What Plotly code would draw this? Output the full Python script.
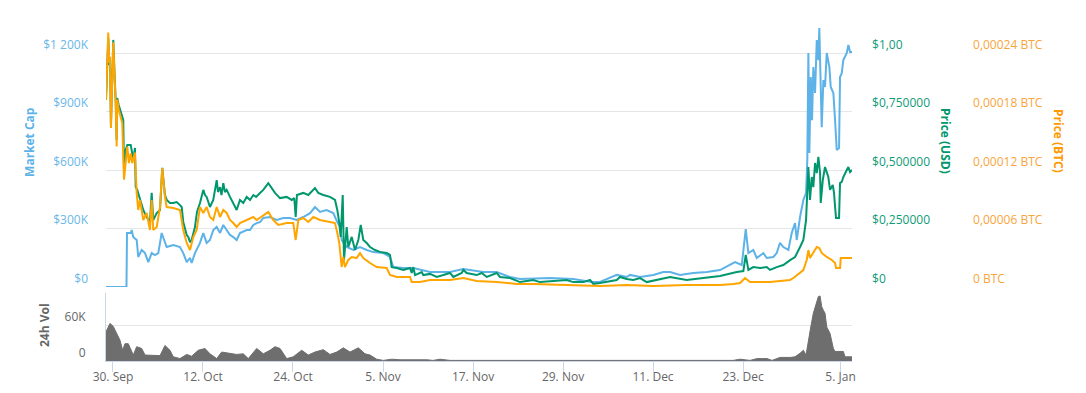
import pandas as pd
import plotly.graph_objects as go

# ---------------- data ----------------
BASE_DATE = "2017-09-30"

# Market cap (thousand USD), time in days since 30 Sep 2017
mc_days = [-0.93, 1.80, 1.87, 2.40, 2.49, 2.71, 3.16, 3.37, 3.83, 4.27,
           4.71, 5.16, 5.60, 6.04, 6.49, 6.93, 7.16, 8.04, 8.93, 9.37,
           9.83, 10.27, 10.49, 10.93, 11.60, 12.04, 12.49, 12.93, 13.37, 13.83,
           14.27, 14.71, 15.16, 15.60, 16.04, 16.49, 16.93, 17.83, 18.27, 18.71,
           19.16, 19.60, 20.04, 20.93, 21.83, 22.71, 23.60, 24.49, 25.37, 26.27,
           26.93, 27.60, 28.49, 29.37, 29.91, 30.27, 30.49, 31.16, 32.04, 32.93,
           33.83, 34.71, 36.04, 36.93, 37.37, 38.71, 39.60, 40.04, 42.27, 44.93,
           46.71, 49.37, 51.16, 52.93, 54.27, 58.27, 61.37, 63.83, 64.93, 67.16,
           68.49, 68.93, 70.27, 72.04, 73.37, 74.27, 75.60, 77.37, 79.16, 80.93,
           82.93, 83.83, 84.36, 84.71, 85.37, 85.83, 86.71, 87.16, 88.04, 88.49,
           88.93, 89.37, 90.04, 90.49, 90.93, 91.16, 91.60, 92.04, 92.40, 92.57,
           92.71, 92.84, 93.03, 93.20, 93.37, 93.60, 93.83, 94.04, 94.17, 94.36,
           94.49, 94.71, 94.93, 95.16, 95.51, 95.69, 96.04, 96.27, 96.49, 96.80,
           96.93, 97.16, 97.37, 97.83, 98.04, 98.27, 98.53]
mc_k = [0, 0, 277, 277, 292, 256, 241, 154, 190, 174,
        128, 174, 164, 174, 277, 226, 205, 215, 205, 174,
        128, 149, 123, 174, 226, 277, 226, 241, 292, 308,
        277, 318, 292, 267, 256, 241, 277, 292, 292, 318,
        328, 333, 354, 359, 344, 354, 354, 344, 359, 379,
        410, 385, 395, 379, 333, 308, 241, 205, 190, 205,
        190, 179, 174, 154, 103, 97, 97, 97, 77, 77,
        92, 77, 77, 51, 41, 46, 41, 26, 26, 62,
        51, 62, 51, 62, 77, 77, 62, 72, 77, 87,
        128, 113, 297, 174, 190, 149, 174, 149, 154, 174,
        226, 205, 190, 277, 328, 241, 359, 446, 482, 651,
        1200, 687, 1077, 856, 1128, 995, 1267, 1164, 1328, 1097,
        820, 1061, 1026, 1200, 1128, 1026, 995, 856, 703, 713,
        1077, 1097, 1164, 1200, 1241, 1205, 1205]

# Price in USD
usd_days = [-0.93, -0.63, -0.49, -0.40, -0.27, -0.13, 0.04, 0.23, 0.36, 0.49,
            0.57, 0.76, 1.03, 1.24, 1.37, 1.47, 1.69, 1.91, 2.13, 2.36,
            2.49, 2.71, 2.93, 3.03, 3.24, 3.60, 3.83, 4.04, 4.49, 4.93,
            5.16, 5.37, 5.83, 6.27, 6.57, 6.93, 7.16, 7.60, 8.04, 8.49,
            8.93, 9.16, 9.37, 9.60, 9.83, 10.04, 10.27, 10.49, 10.71, 10.93,
            11.20, 11.60, 12.04, 12.27, 12.49, 12.93, 13.37, 13.83, 14.00, 14.27,
            14.47, 14.71, 14.93, 15.16, 15.60, 16.04, 16.49, 16.93, 17.37, 17.83,
            18.27, 18.71, 19.07, 19.60, 20.04, 20.71, 21.16, 21.60, 22.27, 23.16,
            23.83, 24.17, 24.36, 24.53, 25.37, 26.04, 26.93, 27.37, 28.04, 28.93,
            29.60, 29.91, 30.17, 30.36, 30.63, 30.80, 31.16, 31.37, 31.83, 32.27,
            32.71, 33.03, 33.37, 33.83, 34.27, 34.93, 35.60, 36.49, 36.93, 37.16,
            37.83, 38.71, 39.60, 39.83, 40.04, 40.27, 41.16, 41.37, 42.27, 43.16,
            44.04, 44.93, 45.37, 46.49, 46.71, 47.16, 48.49, 49.16, 49.83, 51.16,
            51.60, 52.93, 54.27, 56.04, 56.93, 58.71, 60.49, 61.37, 62.71, 63.60,
            64.04, 64.93, 65.83, 67.16, 67.60, 68.49, 69.37, 70.27, 71.16, 72.93,
            74.27, 76.49, 78.71, 80.93, 83.16, 84.04, 84.36, 84.71, 85.37, 86.27,
            87.16, 87.60, 88.49, 89.37, 90.27, 90.93, 91.60, 92.04, 92.40, 92.57,
            92.71, 92.93, 93.16, 93.37, 93.60, 93.83, 94.04, 94.27, 94.36, 94.63,
            94.93, 95.37, 95.60, 95.96, 96.13, 96.27, 96.40, 96.80, 96.93, 97.16,
            97.37, 97.83, 98.04, 98.27, 98.53]
usd_price = [0.799, 1.064, 0.949, 0.970, 0.692, 0.863, 1.056, 0.893, 0.799, 0.628,
             0.808, 0.778, 0.744, 0.722, 0.714, 0.491, 0.585, 0.607, 0.607, 0.607,
             0.585, 0.543, 0.594, 0.427, 0.415, 0.372, 0.350, 0.329, 0.299, 0.278,
             0.402, 0.286, 0.316, 0.329, 0.509, 0.393, 0.372, 0.359, 0.359, 0.363,
             0.350, 0.342, 0.278, 0.244, 0.222, 0.214, 0.192, 0.201, 0.231, 0.256,
             0.321, 0.359, 0.415, 0.393, 0.385, 0.342, 0.372, 0.457, 0.406, 0.427,
             0.393, 0.444, 0.406, 0.415, 0.385, 0.359, 0.329, 0.372, 0.359, 0.385,
             0.372, 0.393, 0.385, 0.402, 0.415, 0.444, 0.423, 0.402, 0.380, 0.385,
             0.372, 0.380, 0.299, 0.393, 0.402, 0.393, 0.423, 0.402, 0.393, 0.385,
             0.372, 0.329, 0.274, 0.214, 0.393, 0.115, 0.256, 0.171, 0.214, 0.158,
             0.201, 0.265, 0.201, 0.188, 0.171, 0.158, 0.150, 0.145, 0.137, 0.085,
             0.081, 0.073, 0.081, 0.060, 0.085, 0.051, 0.064, 0.051, 0.056, 0.043,
             0.051, 0.060, 0.043, 0.060, 0.073, 0.060, 0.051, 0.060, 0.043, 0.060,
             0.043, 0.038, 0.021, 0.030, 0.021, 0.026, 0.030, 0.021, 0.021, 0.030,
             0.013, 0.017, 0.021, 0.030, 0.043, 0.034, 0.030, 0.038, 0.021, 0.034,
             0.043, 0.030, 0.038, 0.047, 0.064, 0.068, 0.137, 0.073, 0.085, 0.081,
             0.085, 0.073, 0.085, 0.094, 0.115, 0.128, 0.171, 0.201, 0.286, 0.427,
             0.513, 0.372, 0.470, 0.427, 0.530, 0.487, 0.556, 0.487, 0.359, 0.457,
             0.513, 0.470, 0.415, 0.436, 0.402, 0.342, 0.295, 0.295, 0.444, 0.449,
             0.470, 0.500, 0.513, 0.491, 0.500]

# Price in BTC
btc_days = [-0.93, -0.63, -0.49, -0.40, -0.27, -0.13, 0.04, 0.23, 0.36, 0.49,
            0.57, 0.76, 1.03, 1.24, 1.47, 1.69, 1.91, 2.13, 2.36, 2.57,
            2.93, 3.16, 3.37, 3.60, 3.83, 4.04, 4.49, 4.93, 5.16, 5.37,
            5.83, 6.27, 6.57, 6.93, 7.16, 8.04, 8.93, 9.37, 9.83, 10.27,
            10.71, 11.16, 11.60, 12.04, 12.49, 12.93, 13.37, 13.83, 14.27, 14.71,
            15.16, 15.60, 16.04, 16.49, 16.93, 17.83, 18.71, 19.16, 20.04, 20.71,
            21.37, 22.04, 23.16, 24.04, 24.36, 24.71, 25.37, 26.04, 26.71, 27.60,
            28.93, 29.60, 29.91, 30.17, 30.49, 30.71, 30.93, 31.37, 31.83, 32.49,
            32.93, 33.37, 34.27, 35.16, 36.49, 36.93, 37.83, 39.60, 39.83, 40.93,
            42.27, 44.93, 46.71, 48.49, 51.16, 53.83, 56.04, 60.49, 63.16, 64.93,
            68.49, 72.04, 76.49, 80.93, 82.71, 83.60, 84.27, 84.93, 86.27, 87.60,
            88.93, 90.27, 90.71, 91.60, 92.04, 92.49, 92.71, 92.93, 93.37, 93.83,
            94.17, 94.49, 95.16, 95.83, 96.27, 96.40, 96.93, 97.03, 98.53]
btc_price = [0.000192, 0.000261, 0.000230, 0.000236, 0.000163, 0.000205, 0.000251, 0.000212, 0.000189, 0.000144,
             0.000192, 0.000182, 0.000174, 0.000168, 0.000110, 0.000130, 0.000144, 0.000127, 0.000137, 0.000127,
             0.000138, 0.0000964, 0.0000790, 0.0000892, 0.0000759, 0.0000687, 0.0000759, 0.0000585, 0.0000892, 0.0000585,
             0.0000615, 0.0000820, 0.000122, 0.0000923, 0.0000820, 0.0000810, 0.0000790, 0.0000585, 0.0000451, 0.0000379,
             0.0000513, 0.0000585, 0.0000820, 0.0000759, 0.0000820, 0.0000718, 0.0000687, 0.0000820, 0.0000718, 0.0000790,
             0.0000759, 0.0000687, 0.0000656, 0.0000615, 0.0000656, 0.0000687, 0.0000718, 0.0000687, 0.0000738, 0.0000769,
             0.0000687, 0.0000636, 0.0000656, 0.0000656, 0.0000482, 0.0000687, 0.0000708, 0.0000667, 0.0000718, 0.0000687,
             0.0000667, 0.0000656, 0.0000554, 0.0000451, 0.0000205, 0.0000308, 0.0000205, 0.0000277, 0.0000308, 0.0000297,
             0.0000349, 0.0000297, 0.0000246, 0.0000205, 0.0000195, 0.0000123, 0.0000103, 0.0000103, 0.0000051, 0.0000051,
             0.0000072, 0.0000072, 0.0000092, 0.0000062, 0.0000051, 0.0000031, 0.0000031, 0.0000021, 0.0000010, 0.0000010,
             0.0000021, 0.0000010, 0.0000021, 0.0000021, 0.0000031, 0.0000041, 0.0000092, 0.0000051, 0.0000051, 0.0000051,
             0.0000062, 0.0000072, 0.0000092, 0.0000144, 0.0000174, 0.0000277, 0.0000379, 0.0000297, 0.0000349, 0.0000410,
             0.0000400, 0.0000349, 0.0000308, 0.0000277, 0.0000246, 0.0000195, 0.0000195, 0.0000297, 0.0000297]

# 24h volume (thousand USD)
vol_days = [-0.93, -0.40, 0.04, 0.49, 0.93, 1.29, 1.60, 2.04, 2.49, 2.71,
            3.16, 3.83, 4.27, 4.93, 5.60, 6.27, 6.93, 7.60, 8.04, 8.93,
            9.83, 10.49, 11.37, 12.27, 12.93, 13.83, 14.49, 15.60, 16.49, 17.37,
            18.04, 19.16, 20.04, 20.93, 21.60, 22.27, 23.16, 24.04, 25.16, 26.04,
            26.93, 28.04, 28.93, 29.83, 30.71, 31.60, 32.71, 33.60, 34.27, 35.16,
            36.04, 37.16, 38.27, 41.87, 42.67, 43.60, 44.93, 47.16, 52.00, 60.93,
            62.67, 69.16, 80.53, 82.67, 83.60, 84.93, 85.87, 87.20, 87.87, 88.93,
            90.27, 90.93, 91.60, 92.04, 92.40, 92.71, 93.03, 93.37, 93.73, 94.04,
            94.27, 94.49, 94.71, 94.93, 95.16, 95.60, 96.04, 96.27, 97.37, 97.60,
            98.44, 98.53]
vol_k = [49, 63, 58, 46, 35, 18, 29, 29, 15, 10,
         24, 21, 10, 10, 10, 9, 26, 18, 7, 4,
         11, 8, 18, 21, 12, 4, 15, 13, 11, 12,
         4, 21, 12, 18, 24, 21, 4, 7, 18, 10,
         15, 19, 11, 15, 22, 15, 22, 12, 10, 3,
         1, 3, 2, 2, 1, 3, 1, 1, 1, 1,
         1, 1, 1, 1, 3, 1, 4, 4, 1, 6,
         6, 7, 13, 18, 10, 35, 57, 80, 94, 108,
         109, 91, 85, 80, 57, 46, 21, 16, 16, 7,
         7, 7]

# axis ticks
x_tick_dates = ["2017-09-30", "2017-10-12", "2017-10-24", "2017-11-05", "2017-11-17",
                "2017-11-29", "2017-12-11", "2017-12-23", "2018-01-05"]
x_tick_labels = ["30. Sep", "12. Oct", "24. Oct", "5. Nov", "17. Nov",
                 "29. Nov", "11. Dec", "23. Dec", "5. Jan"]
mc_ticks = [0, 300000, 600000, 900000, 1200000]
mc_tick_labels = ["$0", "$300K", "$600K", "$900K", "$1 200K"]
usd_ticks = [0, 0.25, 0.5, 0.75, 1.0]
usd_tick_labels = ["$0", "$0,250000", "$0,500000", "$0,750000", "$1,00"]
btc_ticks = [0, 0.00006, 0.00012, 0.00018, 0.00024]
btc_tick_labels = ["0 BTC", "0,00006 BTC", "0,00012 BTC", "0,00018 BTC", "0,00024 BTC"]
vol_ticks = [0, 60000]
vol_tick_labels = ["0", "60K"]

# ---------------- build ----------------
base = pd.Timestamp(BASE_DATE)


def to_dates(days):
    return base + pd.to_timedelta(days, unit="D")


BLUE = "#5db2e8"
GREEN = "#00976e"
ORANGE = "#ffa500"
FONT = "Open Sans, sans-serif"

fig = go.Figure()
fig.add_trace(go.Scatter(x=to_dates(mc_days), y=[v * 1000 for v in mc_k], mode="lines",
                         line=dict(color=BLUE, width=2), yaxis="y", name="Market Cap"))
fig.add_trace(go.Scatter(x=to_dates(usd_days), y=usd_price, mode="lines",
                         line=dict(color=GREEN, width=2), yaxis="y2", name="Price (USD)"))
fig.add_trace(go.Scatter(x=to_dates(btc_days), y=btc_price, mode="lines",
                         line=dict(color=ORANGE, width=2), yaxis="y3", name="Price (BTC)"))
fig.add_trace(go.Scatter(x=to_dates(vol_days), y=[v * 1000 for v in vol_k], mode="lines",
                         line=dict(color="#6e6e6e", width=1), fill="tozeroy",
                         fillcolor="#6e6e6e", yaxis="y4", name="24h Vol"))

x_start = base + pd.to_timedelta(mc_days[0], unit="D")
x_end = base + pd.to_timedelta(mc_days[-1], unit="D")

main_dom = [0.2196, 1.0]
vol_dom = [0.0, 0.2018]
x_dom_end = 0.7691

fig.update_layout(
    width=1086, height=393,
    margin=dict(l=106, r=10, t=24, b=32, autoexpand=False),
    paper_bgcolor="white", plot_bgcolor="white",
    showlegend=False,
    font=dict(family=FONT, size=11, color="#666666"),
    xaxis=dict(domain=[0, x_dom_end], range=[x_start, x_end], anchor="y4", automargin=False,
               tickvals=pd.to_datetime(x_tick_dates), ticktext=x_tick_labels,
               showgrid=False, showline=True, linecolor="#ccd6eb", linewidth=1,
               ticks="outside", ticklen=10, tickcolor="#ccd6eb", ticklabelstandoff=-5,
               tickfont=dict(size=12, color="#666666"), zeroline=False),
    yaxis=dict(domain=main_dom, range=[0, 1349000], tickvals=mc_ticks, ticktext=mc_tick_labels,
               automargin=False,
               gridcolor="#e6e6e6", gridwidth=1, zeroline=False, showline=False,
               ticklabelposition="outside top", ticklabelstandoff=17,
               tickfont=dict(size=12, color="#6ab7e8")),
    yaxis2=dict(overlaying="y", side="right", anchor="free", position=0.7887, automargin=False,
                range=[0, 1.124], tickvals=usd_ticks, ticktext=usd_tick_labels,
                showgrid=False, zeroline=False, showline=False, ticks="",
                ticklabelposition="outside top",
                tickfont=dict(size=12, color="#109a78")),
    yaxis3=dict(overlaying="y", side="right", anchor="free", position=0.8928, automargin=False,
                range=[0, 0.0002697], tickvals=btc_ticks, ticktext=btc_tick_labels,
                showgrid=False, zeroline=False, showline=False, ticks="",
                ticklabelposition="outside top",
                tickfont=dict(size=12, color="#f7a53c")),
    yaxis4=dict(domain=vol_dom, range=[0, 114000], anchor="x", tickvals=vol_ticks, automargin=False,
                ticktext=vol_tick_labels, gridcolor="#e6e6e6", zeroline=False,
                showline=True, linecolor="#ccd6eb", ticklabelposition="outside top",
                ticklabelstandoff=17, tickfont=dict(size=12, color="#666666")),
)

annots = [
    dict(text="<b>Market Cap</b>", x=-0.0784, y=0.6499, color=BLUE, angle=-90),
    dict(text="<b>24h Vol</b>", x=-0.0639, y=0.1068, color="#666666", angle=-90),
    dict(text="<b>Price (USD)</b>", x=0.8660, y=0.6528, color=GREEN, angle=90),
    dict(text="<b>Price (BTC)</b>", x=0.9825, y=0.6528, color="#ff9900", angle=90),
]
for a in annots:
    fig.add_annotation(text=a["text"], x=a["x"], y=a["y"], xref="paper", yref="paper",
                       showarrow=False, textangle=a["angle"], xanchor="center", yanchor="middle",
                       font=dict(family=FONT, size=12, color=a["color"]))

fig.write_html("out.html", config={"displayModeBar": False},
               post_script="document.body.style.margin='0';document.body.style.padding='0';"
                           "document.documentElement.style.overflow='hidden';")
